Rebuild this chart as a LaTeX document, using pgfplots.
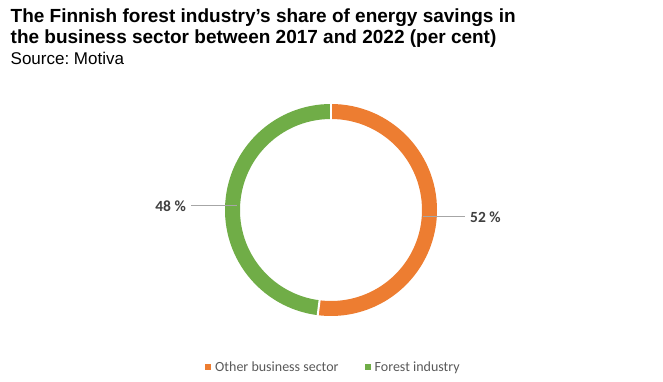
\documentclass[border=0pt]{standalone}
\usepackage{pgfplots}
\pgfplotsset{compat=1.18}
\usepackage{pgfplotstable}
\usepackage{fontspec}
\setmainfont{Liberation Sans}
\newfontfamily\calibri{Carlito}
\frenchspacing
\definecolor{cOrange}{HTML}{ED7D31}
\definecolor{cGreen}{HTML}{70AD47}
\definecolor{txt}{HTML}{404040}
\definecolor{leg}{HTML}{595959}
\definecolor{lead}{HTML}{A6A6A6}
\pgfplotstableread{
label value
Other 52
Forest 48
}\sharetable
\begin{document}
\begin{tikzpicture}
\pgfplotstablegetelem{0}{value}\of\sharetable \global\let\va\pgfplotsretval
\pgfplotstablegetelem{1}{value}\of\sharetable \global\let\vb\pgfplotsretval
\pgfmathsetmacro\angA{90-3.6*\va}
\pgfmathsetmacro\angB{\angA-3.6*\vb}
\path[use as bounding box] (0,0) rectangle (663bp,382bp);
\begin{axis}[at={(0,0)},anchor=south west, x=1bp,y=1bp,
  xmin=0,xmax=663,ymin=0,ymax=382, hide axis, clip=false, scale only axis]
% donut
\draw[cOrange, line width=15bp] (axis cs:331,172) ++(90:98.5bp) arc[start angle=90,end angle=\angA,radius=98.5bp];
\draw[cGreen, line width=15bp] (axis cs:331,172) ++(\angA:98.5bp) arc[start angle=\angA,end angle=\angB,radius=98.5bp];
\draw[white, line width=2bp] (axis cs:331,172) ++(90:89bp) -- ++(90:19bp);
\draw[white, line width=2bp] (axis cs:331,172) ++(\angA:89bp) -- ++(\angA:19bp);
% leader lines
\draw[lead, line width=0.75bp] (axis cs:423,166) -- (axis cs:465,166);
\draw[lead, line width=0.75bp] (axis cs:191,177) -- (axis cs:237,177);
\node[anchor=base west, inner sep=0pt, text=txt, font=\calibri\bfseries\fontsize{15.5bp}{18bp}\selectfont] at (axis cs:470,160) {52 \%};
\node[anchor=base east, inner sep=0pt, text=txt, font=\calibri\bfseries\fontsize{15.5bp}{18bp}\selectfont] at (axis cs:186,171) {48 \%};
% titles
\node[anchor=base west, inner sep=0pt, font=\bfseries\fontsize{19bp}{22bp}\selectfont] at (axis cs:10.5,360) {The Finnish forest industry’s share of energy savings in};
\node[anchor=base west, inner sep=0pt, font=\bfseries\fontsize{19bp}{22bp}\selectfont] at (axis cs:10.5,338.7) {the business sector between 2017 and 2022 (per cent)};
\node[anchor=base west, inner sep=0pt, font=\fontsize{17bp}{20bp}\selectfont] at (axis cs:10.5,317.7) {Source: Motiva};
% legend
\fill[cOrange] (axis cs:205,12) rectangle (axis cs:211,18);
\node[anchor=base west, inner sep=0pt, text=leg, font=\calibri\fontsize{14bp}{16bp}\selectfont] at (axis cs:215,11) {Other business sector};
\fill[cGreen] (axis cs:365,12) rectangle (axis cs:371,18);
\node[anchor=base west, inner sep=0pt, text=leg, font=\calibri\fontsize{14bp}{16bp}\selectfont] at (axis cs:374.5,11) {Forest industry};
\end{axis}
\end{tikzpicture}
\end{document}
